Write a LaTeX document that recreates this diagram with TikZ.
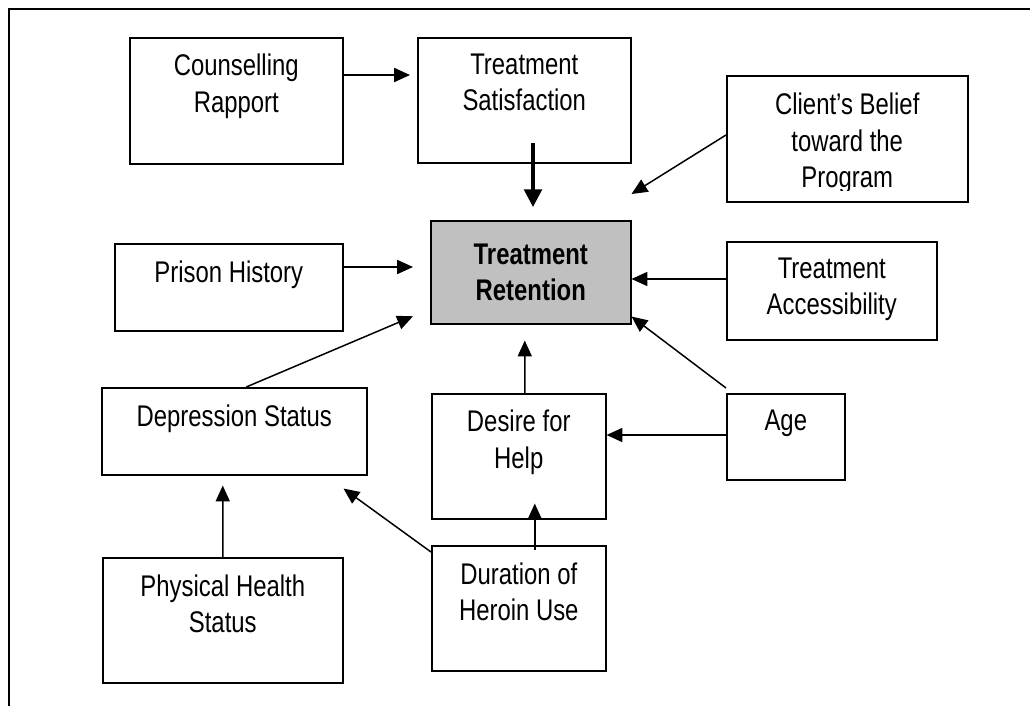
\documentclass[tikz,border=0pt]{standalone}
\usepackage{fontspec}
\setmainfont{Liberation Sans}
\newfontfamily\diagfont[FakeStretch=0.8]{Liberation Sans}
\usetikzlibrary{arrows.meta,calc,positioning}

\begin{document}
\begin{tikzpicture}[x=0.02cm,y=-0.02cm,
    box/.style={draw,line width=0.9pt,rectangle,anchor=north west,inner sep=0pt},
    txt/.style={align=center,inner sep=0pt,font=\diagfont\fontsize{17}{20.5}\selectfont},
    arr/.style={line width=0.85pt,-{Triangle[length=9pt,width=8pt]}},
    thickarr/.style={line width=2pt,-{Triangle[length=10pt,width=10pt]}}]
  \useasboundingbox (0,0) rectangle (1030,706);
  \draw[line width=1.2pt] (9,706) -- (9,9) -- (1030,9);   % frame

  % boxes
  \node[box,minimum width=4.26cm,minimum height=2.52cm] (cr) at (129,37) {};
  \node[box,minimum width=4.26cm,minimum height=2.50cm] (ts) at (417,37) {};
  \node[box,minimum width=4.82cm,minimum height=2.52cm] (cb) at (726,75) {};
  \node[box,minimum width=4.00cm,minimum height=2.06cm,fill={rgb,255:red,192;green,192;blue,192}] (tr) at (430,220) {};
  \node[box,minimum width=4.56cm,minimum height=1.74cm] (ph) at (114,243) {};
  \node[box,minimum width=4.20cm,minimum height=1.96cm] (ta) at (726,241) {};
  \node[box,minimum width=5.30cm,minimum height=1.74cm] (ds) at (101,387) {};
  \node[box,minimum width=3.48cm,minimum height=2.50cm] (dh) at (431,393) {};
  \node[box,minimum width=2.36cm,minimum height=1.72cm] (age) at (726,393) {};
  \node[box,minimum width=3.48cm,minimum height=2.50cm] (du) at (431,545) {};
  \node[box,minimum width=4.80cm,minimum height=2.50cm] (phs) at (102,557) {};

  % labels
  \node[txt,below=0.34cm of cr.north] (crtxt) {Counselling\\Rapport};
  \node[txt,below=0.34cm of ts.north] (tstxt) {Treatment\\Satisfaction};
  \begin{scope}
    \clip (726,75) rectangle (967,190);
    \node[txt,below=0.36cm of cb.north] (cbtxt) {Client’s Belief\\toward the\\Program};
  \end{scope}
  \node[txt,font=\diagfont\fontsize{17}{20.5}\selectfont\bfseries] (trtxt) at (tr.center) {Treatment\\Retention};
  \node[txt,below=0.36cm of ph.north] (phtxt) {Prison History};
  \node[txt,below=0.34cm of ta.north] (tatxt) {Treatment\\Accessibility};
  \node[txt,below=0.36cm of ds.north] (dstxt) {Depression Status};
  \node[txt,below=0.34cm of dh.north] (dhtxt) {Desire for\\Help};
  \node[txt,below=0.34cm of age.north] (agetxt) {Age};
  \node[txt,below=0.34cm of du.north] (dutxt) {Duration of\\Heroin Use};
  \node[txt,below=0.34cm of phs.north] (phstxt) {Physical Health\\Status};

  % connectors
  \coordinate (tsdown) at (533,143);
  \draw[arr,shorten >=4] (cr.east |- 0,75) -- (ts.west |- 0,75);
  \draw[thickarr,shorten >=0.26cm] (tsdown) -- (tr.north -| tsdown);
  \draw[arr] (cb.west |- 0,135) -- ($(tr.north east)+(0,-26)$);
  \draw[arr,shorten >=0.34cm] (ph.east |- 0,267) -- (tr.west |- 0,267);
  \draw[arr] ($(ds.north)+(12,0)$) -- ($(tr.west)+(-17,44)$);
  \draw[arr] (ta.west |- 0,279) -- (tr.east |- 0,279);
  \draw[arr] ($(age.north west)+(0,-5)$) -- ($(tr.south east)+(0,-8)$);
  \draw[arr] ($(dh.north)+(6,0)$) -- ($(tr.south)+(-6,16)$);
  \draw[arr] (age.west |- 0,435) -- (dh.east |- 0,435);
  \draw[arr] ($(du.north)+(16,5)$) -- ($(dh.south)+(16,-16)$);
  \draw[arr] ($(du.north west)+(0,7)$) -- ($(ds.south east)+(-24,13)$);
  \draw[arr] (phs.north) -- ($(ds.south)+(-11.5,10)$);
\end{tikzpicture}
\end{document}
